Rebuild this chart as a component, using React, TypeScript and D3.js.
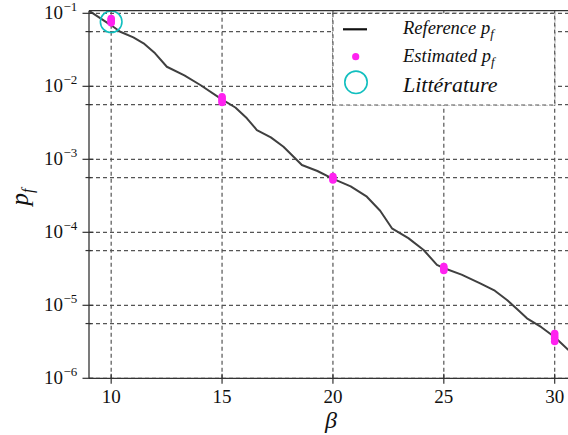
import React from "react";
import * as d3 from "d3";

// ---- data ----
const refBeta = [9.0, 10.0, 10.41, 11.0, 11.46, 11.98, 12.51, 13.3, 14.02, 14.99, 15.6, 16.12, 16.57, 17.2, 17.77, 18.6, 19.3, 19.96, 20.8, 21.53, 22.13, 22.66, 23.4, 24.09, 24.69, 25.02, 25.8, 26.64, 27.3, 27.85, 28.3, 28.75, 29.4, 30.01, 30.62];
const refLogP = [-0.964, -1.164, -1.252, -1.33, -1.411, -1.548, -1.732, -1.85, -1.982, -2.178, -2.29, -2.438, -2.599, -2.7, -2.827, -3.078, -3.16, -3.26, -3.37, -3.512, -3.704, -3.945, -4.08, -4.242, -4.447, -4.493, -4.58, -4.699, -4.8, -4.927, -5.05, -5.178, -5.3, -5.438, -5.612];

const estBeta = [10, 10, 10, 10, 15, 15, 15, 15, 20, 20, 20, 25, 25, 25, 30, 30, 30, 30];
const estP = [0.085, 0.081, 0.077, 0.074, 0.0072, 0.0068, 0.0064, 0.006, 5.8e-4, 5.5e-4, 5.2e-4, 3.4e-5, 3.2e-5, 3.0e-5, 4.1e-6, 3.8e-6, 3.5e-6, 3.2e-6];

const litBeta = [10];
const litP = [0.0767];

const xTicks = [10, 15, 20, 25, 30];
const yTickExp = [-1, -2, -3, -4, -5, -6];
const yMinorExp = [-1.25, -2.25, -3.25, -4.25, -5.25];

const legendLabels = ["Reference", "Estimated", "Littérature"];

const W = 568, H = 435;

export default function App() {
  const x = d3.scaleLinear().domain([9, 30.6]).range([89, 568]);
  const y = d3.scaleLog().domain([1e-6, Math.pow(10, -0.964)]).range([378.3, 10.7]);
  const [x0, x1] = x.range();
  const [yb, yt] = y.range();

  const refData = refBeta.map((b, i) => [b, Math.pow(10, refLogP[i])] as [number, number]);
  const line = d3
    .line<[number, number]>()
    .x((d) => x(d[0]))
    .y((d) => y(d[1]))
    .curve(d3.curveLinear);

  const gridColor = "#555";
  const dash = "4,3";
  const font = "'Liberation Serif', 'DejaVu Serif', serif";
  const magenta = "#ff22f0";
  const cyan = "#11bfbf";

  // legend geometry
  const lx0 = x(20), lx1 = x(30);
  const ly0 = y(0.1), ly1 = 105;

  return (
    <svg width={W} height={H} style={{ position: "absolute", left: 0, top: 0, background: "#fff" }} fontFamily={font}>
      <defs>
        <clipPath id="plotclip">
          <rect x={x0} y={yt} width={x1 - x0} height={yb - yt} />
        </clipPath>
      </defs>
      {/* grid */}
      <g stroke={gridColor} strokeWidth={1.2} strokeDasharray={dash} fill="none">
        {xTicks.map((t) => (
          <line key={"gx" + t} x1={x(t)} x2={x(t)} y1={yt} y2={yb} />
        ))}
        {yTickExp.map((e) => (
          <line key={"gy" + e} x1={x0} x2={x1} y1={y(Math.pow(10, e))} y2={y(Math.pow(10, e))} />
        ))}
        {yMinorExp.map((e) => (
          <line key={"gm" + e} x1={x0} x2={x1} y1={y(Math.pow(10, e))} y2={y(Math.pow(10, e))} />
        ))}
      </g>

      {/* reference curve */}
      <g clipPath="url(#plotclip)">
        <path d={line(refData) || ""} fill="none" stroke="#404040" strokeWidth={2} strokeLinejoin="round" />
        {estBeta.map((b, i) => (
          <circle key={"e" + i} cx={x(b)} cy={y(estP[i])} r={3.8} fill={magenta} />
        ))}
        {litBeta.map((b, i) => (
          <circle key={"l" + i} cx={x(b)} cy={y(litP[i])} r={10.8} fill="none" stroke={cyan} strokeWidth={1.6} />
        ))}
      </g>

      {/* spines */}
      <g stroke="#333" strokeWidth={1.3}>
        <line x1={x0} x2={x0} y1={yt} y2={yb} />
        <line x1={x0} x2={x1} y1={yb} y2={yb} />
        <line x1={x0} x2={x1} y1={yt} y2={yt} />
      </g>

      {/* ticks */}
      <g stroke="#333" strokeWidth={1.2}>
        {xTicks.map((t) => (
          <line key={"tx" + t} x1={x(t)} x2={x(t)} y1={yb - 4.5} y2={yb + 5.5} />
        ))}
        {yTickExp.map((e) => (
          <line key={"ty" + e} x1={x0 - 6.5} x2={x0 + 4.5} y1={y(Math.pow(10, e))} y2={y(Math.pow(10, e))} />
        ))}
        {yMinorExp.map((e) => (
          <line key={"tm" + e} x1={x0 - 3.5} x2={x0 + 2.5} y1={y(Math.pow(10, e))} y2={y(Math.pow(10, e))} />
        ))}
      </g>

      {/* tick labels */}
      <g fill="#111" fontSize={19}>
        {xTicks.map((t) => (
          <text key={"lx" + t} x={x(t)} y={403} textAnchor="middle">
            {t}
          </text>
        ))}
        {yTickExp.map((e) => (
          <g key={"ly" + e}>
            <text x={63} y={y(Math.pow(10, e)) + 6} textAnchor="end">10</text>
            <text x={63.5} y={y(Math.pow(10, e)) - 2} fontSize={13} textAnchor="start">
              {"\u2212" + Math.abs(e)}
            </text>
          </g>
        ))}
      </g>

      {/* axis labels */}
      <text x={331} y={428} textAnchor="middle" fontSize={24} fontStyle="italic" fill="#111">β</text>
      <g transform="translate(28,197) rotate(-90)">
        <text x={0} y={0} textAnchor="middle" fontSize={25} fontStyle="italic" fill="#111">
          p<tspan fontSize={16} dy={5}>f</tspan>
        </text>
      </g>

      {/* legend */}
      <rect x={lx0} y={ly0} width={lx1 - lx0} height={ly1 - ly0} fill="#fff" stroke={gridColor} strokeWidth={1.2} strokeDasharray={dash} />
      <line x1={343} x2={367} y1={29.3} y2={29.3} stroke="#111" strokeWidth={2.2} />
      <circle cx={355.7} cy={56.7} r={3.6} fill={magenta} />
      <circle cx={356} cy={82.3} r={11.2} fill="none" stroke={cyan} strokeWidth={1.6} />
      <g fill="#111" fontStyle="italic">
        <text x={403} y={34.3} fontSize={18.5}>
          {legendLabels[0]} p<tspan fontSize={13} dy={4}>f</tspan>
        </text>
        <text x={403} y={62} fontSize={18.5}>
          {legendLabels[1]} p<tspan fontSize={13} dy={4}>f</tspan>
        </text>
        <text x={403} y={92} fontSize={22}>
          {legendLabels[2]}
        </text>
      </g>
    </svg>
  );
}
